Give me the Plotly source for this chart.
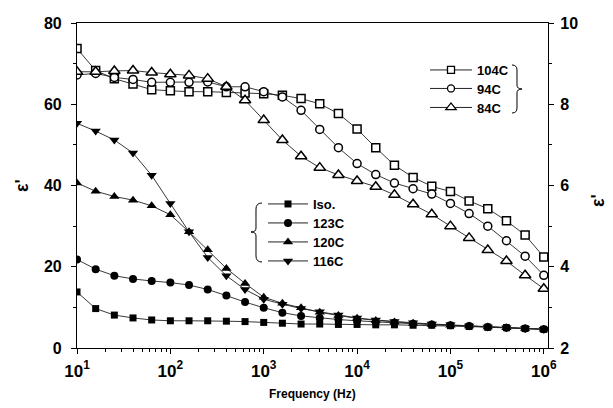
import plotly.graph_objects as go

# ---------------- data ----------------
freq = [10, 15.85, 25.12, 39.81, 63.10, 100, 158.5, 251.2, 398.1, 631.0,
        1000, 1585, 2512, 3981, 6310, 10000, 15850, 25120, 39810, 63100,
        1.0e5, 1.585e5, 2.512e5, 3.981e5, 6.310e5, 1.0e6]

x_tickvals = [10, 100, 1000, 10000, 100000, 1000000]
x_ticktext = ["10<sup>1</sup>", "10<sup>2</sup>", "10<sup>3</sup>",
              "10<sup>4</sup>", "10<sup>5</sup>", "10<sup>6</sup>"]

# left axis (filled symbols)
iso = [13.8, 9.7, 8.1, 7.4, 6.9, 6.7, 6.7, 6.7, 6.6, 6.5, 6.3, 6.1, 5.9,
       5.9, 5.8, 5.8, 5.7, 5.7, 5.6, 5.6, 5.5, 5.3, 5.1, 5.0, 4.8, 4.6]
t123 = [21.8, 19.4, 17.8, 17.0, 16.5, 16.1, 15.5, 14.4, 12.9, 11.3, 9.9, 8.7,
        7.9, 7.4, 7.0, 6.7, 6.4, 6.2, 6.0, 5.8, 5.6, 5.4, 5.2, 5.0, 4.8, 4.6]
t120 = [40.6, 38.6, 37.3, 36.4, 35.0, 32.8, 28.6, 24.2, 19.6, 15.9, 12.5, 11.0,
        9.9, 8.8, 8.0, 7.3, 6.8, 6.4, 6.1, 5.8, 5.6, 5.4, 5.2, 5.0, 4.8, 4.6]
t116 = [55.3, 53.4, 51.2, 48.0, 42.5, 35.6, 28.6, 22.3, 17.8, 14.4, 12.0, 10.8,
        9.7, 8.9, 8.1, 7.4, 6.9, 6.5, 6.2, 5.9, 5.7, 5.4, 5.2, 5.0, 4.8, 4.6]

# right axis (open symbols)
t104 = [9.37, 8.83, 8.63, 8.50, 8.36, 8.33, 8.31, 8.31, 8.29, 8.28, 8.26, 8.22,
        8.14, 8.01, 7.77, 7.39, 6.93, 6.50, 6.20, 5.98, 5.85, 5.62, 5.43, 5.13,
        4.78, 4.24]
t94 = [8.72, 8.76, 8.66, 8.61, 8.54, 8.54, 8.54, 8.55, 8.43, 8.43, 8.31, 8.18,
       7.85, 7.38, 6.93, 6.54, 6.27, 6.06, 5.92, 5.79, 5.56, 5.31, 5.00, 4.64,
       4.26, 3.79]
t84 = [8.80, 8.80, 8.82, 8.83, 8.78, 8.74, 8.71, 8.63, 8.43, 8.10, 7.61, 7.12,
       6.72, 6.44, 6.26, 6.11, 5.97, 5.77, 5.54, 5.29, 5.00, 4.71, 4.41, 4.14,
       3.79, 3.46]

filled_names = ["Iso.", "123C", "120C", "116C"]
filled_vals = [iso, t123, t120, t116]
filled_syms = ["square", "circle", "triangle-up", "triangle-down"]
filled_sizes = [7, 8, 9, 9]

open_names = ["104C", "94C", "84C"]
open_vals = [t104, t94, t84]
open_syms = ["square", "circle", "triangle-up"]
open_sizes = [8, 8, 10]

# ---------------- figure ----------------
OFF = 8                      # default page body margin
W, H = 605, 400
L, R, T, B = 69, 65, 15, 60
pw, ph = W - L - R, H - T - B

def px(x):
    """page pixel x -> paper fraction"""
    return (x - OFF - L) / pw

def py(y):
    """page pixel y -> paper fraction"""
    return (H - B - (y - OFF)) / ph

fig = go.Figure()
LINE = dict(color="#222", width=0.9)

for n, v, s, sz in zip(filled_names, filled_vals, filled_syms, filled_sizes):
    fig.add_trace(go.Scatter(x=freq, y=v, mode="lines+markers", name=n,
                             showlegend=False, line=LINE,
                             marker=dict(symbol=s, size=sz, color="black",
                                         line=dict(width=0)),
                             yaxis="y"))
for n, v, s, sz in zip(open_names, open_vals, open_syms, open_sizes):
    fig.add_trace(go.Scatter(x=freq, y=v, mode="lines+markers", name=n,
                             showlegend=False, line=LINE,
                             marker=dict(symbol=s, size=sz, color="white",
                                         line=dict(width=1.5, color="black")),
                             yaxis="y2"))

FONT = "Arial, Liberation Sans, sans-serif"
LEGFONT = dict(family=FONT, size=13, color="black", weight="bold")

# one small legend per entry, so rows can be placed like the reference
legend_layout = {}
open_rows = [70, 88.5, 107.5]
filled_rows = [204, 223, 242, 261]
idx = 1
for n, s, sz, yy in zip(open_names, open_syms, [7, 7, 9], open_rows):
    key = "legend" if idx == 1 else f"legend{idx}"
    fig.add_trace(go.Scatter(x=[None], y=[None], mode="lines+markers", name=n,
                             legend=key, line=dict(color="#222", width=1),
                             marker=dict(symbol=s, size=sz, color="white",
                                         line=dict(width=1.3, color="black")),
                             yaxis="y2"))
    legend_layout[key] = dict(x=px(425), y=py(yy), xanchor="left",
                              yanchor="middle", bgcolor="rgba(0,0,0,0)",
                              borderwidth=0, font=LEGFONT, itemwidth=42)
    idx += 1
for n, s, sz, yy in zip(filled_names, filled_syms, [7, 8, 9, 9], filled_rows):
    key = f"legend{idx}"
    fig.add_trace(go.Scatter(x=[None], y=[None], mode="lines+markers", name=n,
                             legend=key, line=dict(color="#222", width=1),
                             marker=dict(symbol=s, size=sz, color="black",
                                         line=dict(width=0)),
                             yaxis="y"))
    legend_layout[key] = dict(x=px(263), y=py(yy), xanchor="left",
                              yanchor="middle", bgcolor="rgba(0,0,0,0)",
                              borderwidth=0, font=LEGFONT, itemwidth=40)
    idx += 1

tickfont_y = dict(family=FONT, size=16, color="black", weight="bold")
tickfont_x = dict(family=FONT, size=17, color="black", weight="bold")

fig.update_layout(
    width=W, height=H,
    margin=dict(l=L, r=R, t=T, b=B, autoexpand=False),
    paper_bgcolor="white", plot_bgcolor="white",
    showlegend=True,
    xaxis=dict(type="log", range=[1, 6.045], tickvals=x_tickvals,
               ticktext=x_ticktext, automargin=False, ticklabelstandoff=2,
               showline=True, linecolor="black", linewidth=1.2, mirror=True,
               ticks="outside", ticklen=5, tickwidth=1.2, tickcolor="black",
               minor=dict(ticks="outside", ticklen=3, tickwidth=1, dtick="D1",
                          tickcolor="black", showgrid=False),
               showgrid=False, zeroline=False, tickfont=tickfont_x),
    yaxis=dict(range=[0, 80], dtick=20, showline=True, linecolor="black",
               linewidth=1.2, ticks="outside", ticklen=5, tickwidth=1.2,
               tickcolor="black", automargin=False, ticklabelstandoff=6,
               minor=dict(ticks="outside", ticklen=3, dtick=10,
                          tickcolor="black", showgrid=False),
               showgrid=False, zeroline=False, tickfont=tickfont_y),
    yaxis2=dict(range=[2, 10], dtick=2, overlaying="y", side="right",
                showline=True, linecolor="black", linewidth=1.2,
                ticks="outside", ticklen=5, tickwidth=1.2, tickcolor="black",
                automargin=False, ticklabelstandoff=3,
                minor=dict(ticks="outside", ticklen=3, dtick=1,
                           tickcolor="black", showgrid=False),
                showgrid=False, zeroline=False, tickfont=tickfont_y),
    **legend_layout,
)

# axis titles
fig.add_annotation(x=px(312), y=py(394), xref="paper", yref="paper",
                   xanchor="center", yanchor="middle",
                   text="Frequency (Hz)", showarrow=False,
                   font=dict(family=FONT, size=12, color="black", weight="bold"))
for xx, yy in [(22, 186), (598, 201)]:
    fig.add_annotation(x=px(xx), y=py(yy), xref="paper", yref="paper",
                       xanchor="center", yanchor="middle",
                       text="ε'", showarrow=False, textangle=-90,
                       font=dict(family=FONT, size=18, color="black",
                                 weight="bold"))

# braces
def brace_path(pts):
    out = []
    for cmd, coords in pts:
        s = " ".join(f"{px(a):.5f},{py(b):.5f}" for a, b in coords)
        out.append(f"{cmd} {s}")
    return " ".join(out)

right_brace = [("M", [(512, 65)]), ("Q", [(517, 65), (517, 70)]),
               ("L", [(517, 85)]), ("Q", [(517, 89), (522, 89)]),
               ("Q", [(517, 89), (517, 93)]), ("L", [(517, 108)]),
               ("Q", [(517, 113), (512, 113)])]
left_brace = [("M", [(262, 203)]), ("Q", [(256, 203), (256, 209)]),
              ("L", [(256, 228)]), ("Q", [(256, 232), (251, 232)]),
              ("Q", [(256, 232), (256, 236)]), ("L", [(256, 256)]),
              ("Q", [(256, 262), (262, 262)])]
for p in (right_brace, left_brace):
    fig.add_shape(type="path", xref="paper", yref="paper",
                  path=brace_path(p), line=dict(color="black", width=1))

fig.write_html("out.html")
